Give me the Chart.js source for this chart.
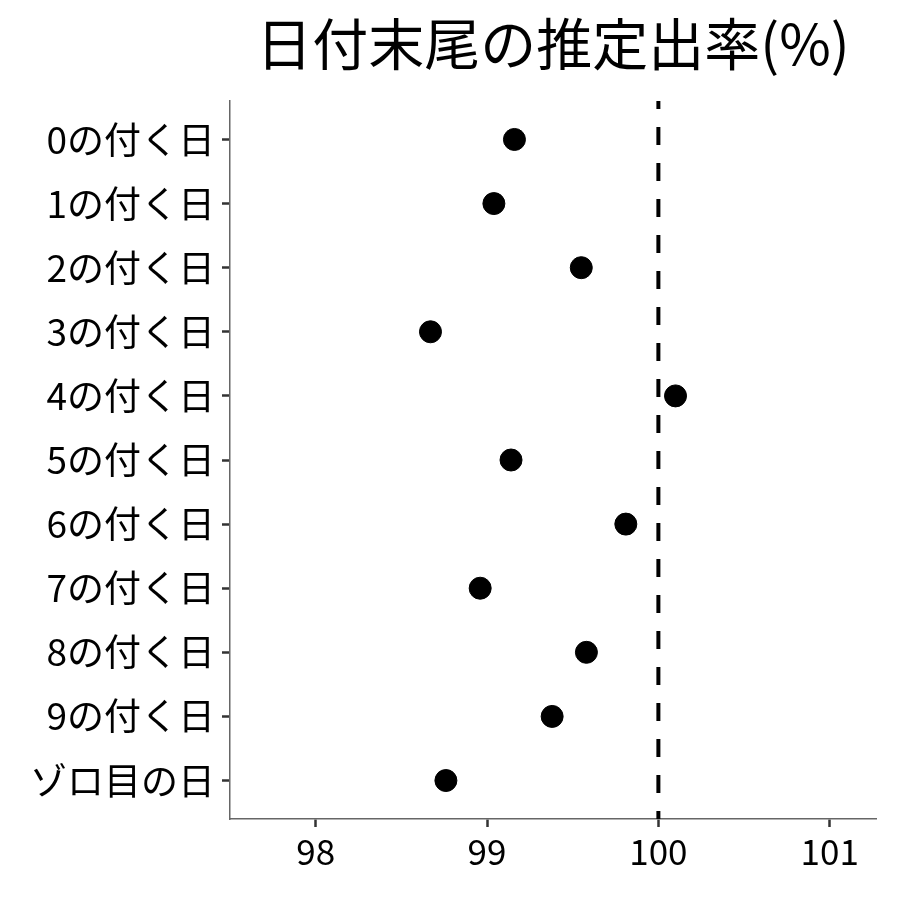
<!DOCTYPE html>
<html><head><meta charset="utf-8">
<script src="https://cdn.jsdelivr.net/npm/chart.js@4/dist/chart.umd.min.js"></script>
<style>html,body{margin:0;padding:0;background:#fff}#wrap{width:900px;height:900px}</style>
</head><body><div id="wrap"><canvas id="c" width="900" height="900"></canvas></div>
<script>
const TITLE = '日付末尾の推定出率(%)';
const categories = ['0の付く日','1の付く日','2の付く日','3の付く日','4の付く日','5の付く日','6の付く日','7の付く日','8の付く日','9の付く日','ゾロ目の日'];
const rates = [99.16, 99.04, 99.55, 98.67, 100.10, 99.14, 99.81, 98.96, 99.58, 99.38, 98.76];
const xTicks = [98, 99, 100, 101];
const refValue = 100;
const FONT = "'Noto Sans CJK JP', 'Noto Sans', sans-serif";

const titlePlugin = {
  id: 'ttl',
  afterDraw(chart) {
    const ctx = chart.ctx, a = chart.chartArea;
    ctx.save();
    ctx.font = '56px ' + FONT;
    ctx.fillStyle = '#000';
    ctx.textAlign = 'center';
    ctx.textBaseline = 'middle';
    ctx.fillText(TITLE, (a.left + a.right) / 2, 44);
    ctx.restore();
  }
};

new Chart(document.getElementById('c'), {
  type: 'scatter',
  data: {
    datasets: [
      {
        type: 'line',
        data: [{x: refValue, y: -0.6}, {x: refValue, y: categories.length - 0.4}],
        borderColor: '#000', borderWidth: 4, borderDash: [18, 18], borderDashOffset: 10,
        pointRadius: 0, fill: false
      },
      {
        data: rates.map((v, i) => ({x: v, y: i})),
        backgroundColor: '#000', borderColor: '#000',
        pointRadius: 11, pointHoverRadius: 11
      }
    ]
  },
  options: {
    responsive: false, animation: false,
    layout: {padding: {top: 101, left: 0, right: 24, bottom: 0}},
    plugins: {legend: {display: false}, tooltip: {enabled: false}, title: {display: false}},
    scales: {
      x: {
        type: 'linear', min: 97.5, max: 101.27,
        afterBuildTicks: s => { s.ticks = xTicks.map(v => ({value: v})); },
        afterFit: s => { s.height = 81; },
        grid: {drawOnChartArea: false, drawTicks: true, tickLength: 8, tickColor: '#333', tickWidth: 2.5},
        border: {display: true, color: '#666', width: 1.5},
        ticks: {color: '#000', font: {family: FONT, size: 35}, padding: 4}
      },
      y: {
        type: 'linear', reverse: true, min: -0.6, max: categories.length - 0.4,
        afterBuildTicks: s => { s.ticks = categories.map((_, i) => ({value: i})); },
        afterFit: s => { s.width = 230; },
        grid: {drawOnChartArea: false, drawTicks: true, tickLength: 8, tickColor: '#333', tickWidth: 2.5},
        border: {display: true, color: '#666', width: 1.5},
        ticks: {color: '#000', font: {family: FONT, size: 37}, padding: 7,
          callback: v => categories[v]}
      }
    }
  },
  plugins: [titlePlugin]
});
</script></body></html>
